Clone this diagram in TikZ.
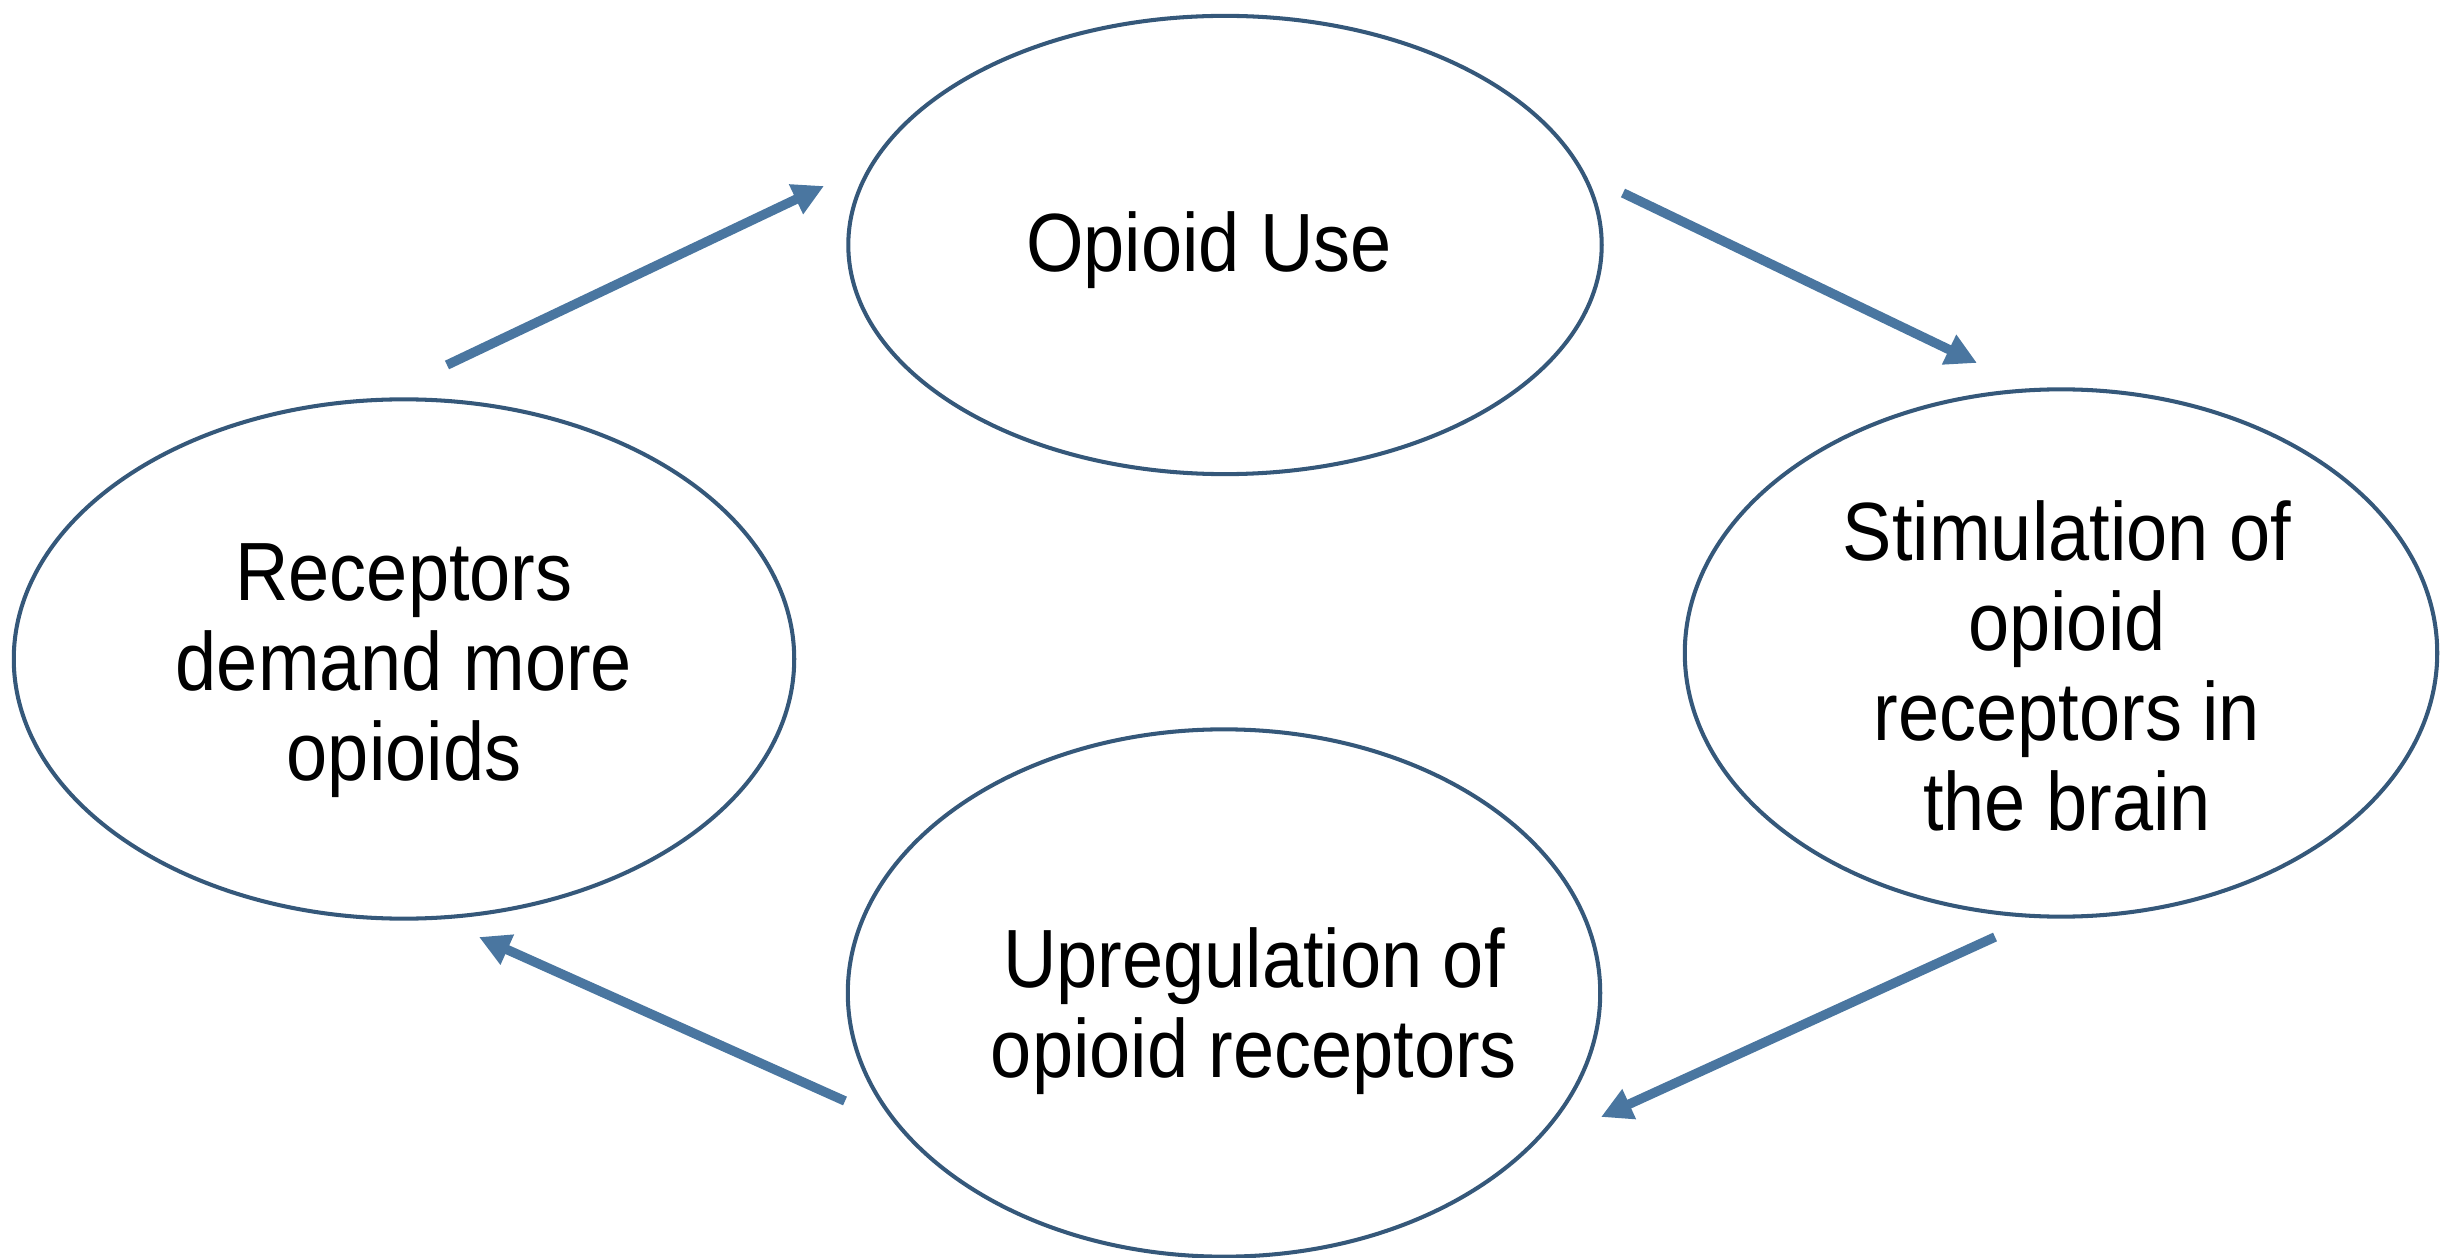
\documentclass[tikz,border=0pt]{standalone}
\usepackage{fontspec}
\setmainfont{Liberation Sans}[FakeStretch=0.895]
\usetikzlibrary{shapes.geometric,arrows.meta}
\definecolor{ovalline}{HTML}{35587A}
\definecolor{arrowblue}{HTML}{4A76A0}
\tikzset{
  oval/.style={ellipse, draw=ovalline, line width=1.15pt, inner sep=0pt},
  ovaltext/.style={align=center, inner sep=0pt, font=\fontsize{23.5}{25.6}\selectfont},
  cyclearrow/.style={draw=arrowblue, line width=2.7pt,
    -{Triangle[length=0.31cm,width=0.31cm]}}
}
\begin{document}
\begin{tikzpicture}[x=0.01cm,y=-0.01cm]
\useasboundingbox (0,0) rectangle (2445,1258);
\node[oval, minimum width=7.53cm, minimum height=4.58cm] (top) at (1225,245) {};
\node[oval, minimum width=7.52cm, minimum height=5.27cm] (right) at (2061,653) {};
\node[oval, minimum width=7.52cm, minimum height=5.27cm] (bottom) at (1224,993) {};
\node[oval, minimum width=7.80cm, minimum height=5.19cm] (left) at (404,659) {};
\node[ovaltext] (ttop) at (1209,250) {Opioid Use};
\node[ovaltext] (tright) at (2067,666) {Stimulation of\\opioid\\receptors in\\the brain};
\node[ovaltext] (tbottom) at (1254,1011) {Upregulation of\\opioid receptors};
\node[ovaltext] (tleft) at (404,671) {Receptors\\demand more\\opioids};
\coordinate (a1s) at (447,365);
\coordinate (a1e) at (824,186);
\coordinate (a2s) at (1623,193);
\coordinate (a2e) at (1977,363);
\coordinate (a3s) at (1995,937);
\coordinate (a3e) at (1601,1117);
\coordinate (a4s) at (845,1101);
\coordinate (a4e) at (479,937);
\draw[cyclearrow] (a1s) -- (a1e);
\draw[cyclearrow] (a2s) -- (a2e);
\draw[cyclearrow] (a3s) -- (a3e);
\draw[cyclearrow] (a4s) -- (a4e);
\end{tikzpicture}
\end{document}
